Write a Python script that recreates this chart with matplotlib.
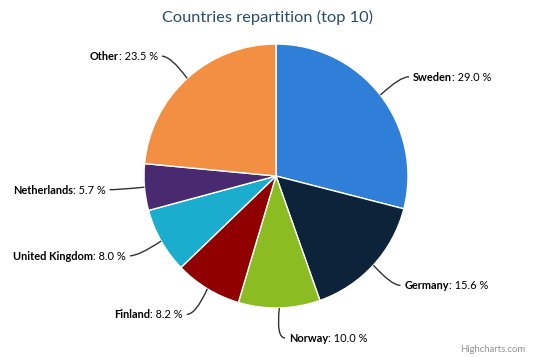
import numpy as np
import matplotlib.pyplot as plt
from matplotlib.path import Path
import matplotlib.patches as mpatches

plt.rcParams["font.family"] = ["Lato", "DejaVu Sans"]

countries = ["Sweden", "Germany", "Norway", "Finland", "United Kingdom", "Netherlands", "Other"]
shares = [29.0, 15.6, 10.0, 8.2, 8.0, 5.7, 23.5]
colors = ["#2f7ed8", "#0d233a", "#8bbc21", "#910000", "#1aadce", "#492970", "#f28f43"]

W, H = 533, 357
cx, cy, r = 276, 176, 132
dist = 30

fig = plt.figure(figsize=(W / 100, H / 100), dpi=100)
ax = fig.add_axes([0, 0, 1, 1])

# y axis goes down (pixel coords), so counterclock=True draws clockwise on screen
ax.pie(shares, colors=colors, startangle=-90, counterclock=True, center=(cx, cy), radius=r,
       wedgeprops=dict(edgecolor="white", linewidth=1))
ax.set_xlim(0, W)
ax.set_ylim(H, 0)
ax.set_aspect("equal")
ax.axis("off")

fs = 7.9
total = sum(shares)
start = 0.0
for name, val in zip(countries, shares):
    mid = (start + val / 2) / total * 2 * np.pi  # clockwise from top
    start += val
    dx, dy = np.sin(mid), -np.cos(mid)
    ex, ey = cx + r * dx, cy + r * dy
    ax_, ay_ = cx + (r + dist) * dx, cy + (r + dist) * dy
    side = 1 if dx >= 0 else -1
    end = (ax_ + side * 5, ay_)
    path = Path([(ex, ey), (ax_ - side * 4, ay_), end], [Path.MOVETO, Path.CURVE3, Path.CURVE3])
    ax.add_patch(mpatches.PathPatch(path, fill=False, edgecolor="#333333", lw=1))
    tx = ax_ + side * 9
    rest = ": %.1f %%" % val
    if side > 0:
        t = ax.text(tx, ay_ + 4, name, fontsize=fs, fontweight="bold", ha="left", va="baseline", color="black")
        ax.annotate(rest, xy=(1, 0), xycoords=t, ha="left", va="bottom", fontsize=fs, color="black")
    else:
        t = ax.text(tx, ay_ + 4, rest, fontsize=fs, ha="right", va="baseline", color="black")
        ax.annotate(name, xy=(0, 0), xycoords=t, ha="right", va="bottom", fontsize=fs,
                    fontweight="bold", color="black")

fig.text(267 / W, 1 - 17 / H, "Countries repartition (top 10)", ha="center", va="center",
         fontsize=11.8, color="#274b6d")
fig.text(525 / W, 1 - 349 / H, "Highcharts.com", ha="right", va="center", fontsize=6.8, color="#909090")

fig.savefig("out.png", dpi=100, facecolor="white")
